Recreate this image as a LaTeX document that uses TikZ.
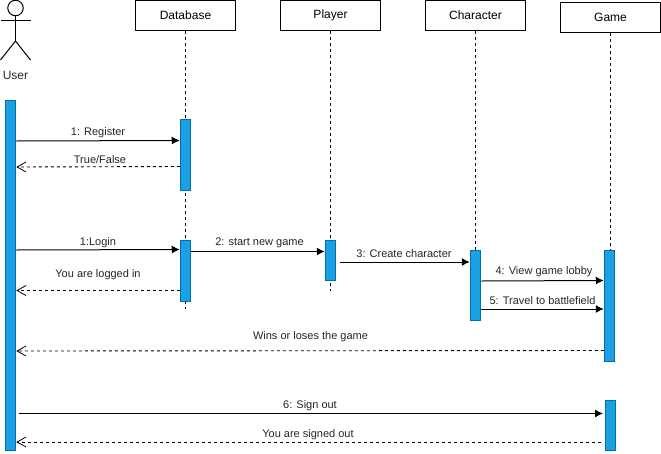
\documentclass[tikz,border=0pt]{standalone}
\usepackage{fontspec}
\setmainfont{Liberation Sans}
\usetikzlibrary{arrows.meta}
\definecolor{barfill}{HTML}{1BA1E2}
\definecolor{barline}{HTML}{006EAF}
\tikzset{
  x=1pt,y=-1pt,
  head/.style={draw=black,fill=white,line width=1pt,minimum width=100pt,minimum height=30pt,inner sep=0pt,font=\fontsize{12}{14}\selectfont},
  bar/.style={draw=barline,fill=barfill,line width=1pt,minimum width=10.5pt,inner sep=0pt,anchor=north},
  life/.style={draw=black,line width=1pt,dash pattern=on 3pt off 3pt},
  call/.style={draw=black,line width=1pt,-{Latex[length=8pt,width=8pt]}},
  reply/.style={draw=black,line width=0.9pt,dash pattern=on 3pt off 3pt,-{Straight Barb[length=9pt,width=10pt,line width=0.8pt]}},
  lbl/.style={font=\fontsize{11}{13}\selectfont,inner sep=0pt,text=black!85},
  limb/.style={draw=black,line width=1pt}
}
\begin{document}
\begin{tikzpicture}
\useasboundingbox (0,0) rectangle (661,453);
\fill[white] (0,0) rectangle (661,453);
% heads
\node[head] (db) at (185.5,15.5) {Database};
\node[head] (pl) at (330.5,15.5) {Player};
\node[head] (ch) at (475.5,15.5) {Character};
\node[head] (ga) at (610.5,17.5) {Game};
% lifeline ends
\coordinate (dbend) at (185.5,309);
\coordinate (plend) at (330.5,291);
\coordinate (chtop) at (475.5,250);
\coordinate (gatop) at (610.5,250);
\draw[life] (db.south) -- (dbend);
\draw[life] (pl.south) -- (plend);
\draw[life] (ch.south) -- (chtop);
\draw[life] (ga.south) -- (gatop);
% actor
\node[draw=black,fill=white,circle,line width=1pt,minimum size=15.5pt,inner sep=0pt] (uh) at (15.5,8) {};
\coordinate (hip) at (15.5,41);
\coordinate (aL) at (0.5,20);
\coordinate (aR) at (30.5,20);
\coordinate (lL) at (0.5,60);
\coordinate (lR) at (30.5,60);
\draw[limb] (uh.south) -- (hip);
\draw[limb] (aL) -- (aR);
\draw[limb] (lL) -- (hip) -- (lR);
\node[inner sep=0pt,font=\fontsize{12}{14}\selectfont,text=black!85] (ul) at (15.5,75) {User};
% activation bars
\node[bar,minimum height=350pt] (ub) at (10.5,100) {};
\node[bar,minimum height=71pt] (d1) at (185.5,119) {};
\node[bar,minimum height=60.5pt] (d2) at (185.5,240) {};
\node[bar,minimum height=40pt] (p1) at (330.5,240) {};
\node[bar,minimum height=70pt] (c1) at (475.5,250) {};
\node[bar,minimum height=110.5pt] (g1) at (609.5,250) {};
\node[bar,minimum height=50pt] (g2) at (610.5,400.3) {};
% messages
\draw[call] (ub.east |- 0,141) -- (d1.west |- 0,140.5);
\draw[reply] (d1.west |- 0,166.5) -- (ub.east |- 0,167);
\draw[call] (ub.east |- 0,250) -- (d2.west |- 0,249.5);
\draw[reply] (d2.west |- 0,290.5) -- (ub.east |- 0,290.5);
\draw[call] (d2.east |- 0,251.5) -- (p1.west |- 0,251.5);
\coordinate (cstart) at (340,262);
\draw[call] (cstart) -- (c1.west |- cstart);
\draw[call] (c1.east |- 0,281) -- (g1.west |- 0,280.5);
\draw[call] (c1.east |- 0,309) -- (g1.west |- 0,309);
\draw[reply] (g1.west |- 0,350.5) -- (ub.east |- 0,351);
\coordinate (sostart) at (19,413.5);
\coordinate (soend) at (603,413.5);
\draw[call] (sostart) -- (soend);
\coordinate (sdstart) at (601,442);
\draw[reply] (sdstart) -- (ub.east |- sdstart);
% labels
\node[lbl] (t1) at (98,133) {1: Register};
\node[lbl] (t2) at (100,160) {True/False};
\node[lbl] (t3) at (98,242.5) {1:Login};
\node[lbl] (t4) at (98,275) {You are logged in};
\node[lbl] (t5) at (259.5,243) {2: start new game};
\node[lbl] (t6) at (404,254) {3: Create character};
\node[lbl] (t7) at (544,272) {4: View game lobby};
\node[lbl] (t8) at (542.5,301) {5: Travel to battlefield};
\node[lbl] (t9) at (310.5,337) {Wins or loses the game};
\node[lbl] (t10) at (310,405.5) {6: Sign out};
\node[lbl] (t11) at (308,435) {You are signed out};
\end{tikzpicture}
\end{document}
